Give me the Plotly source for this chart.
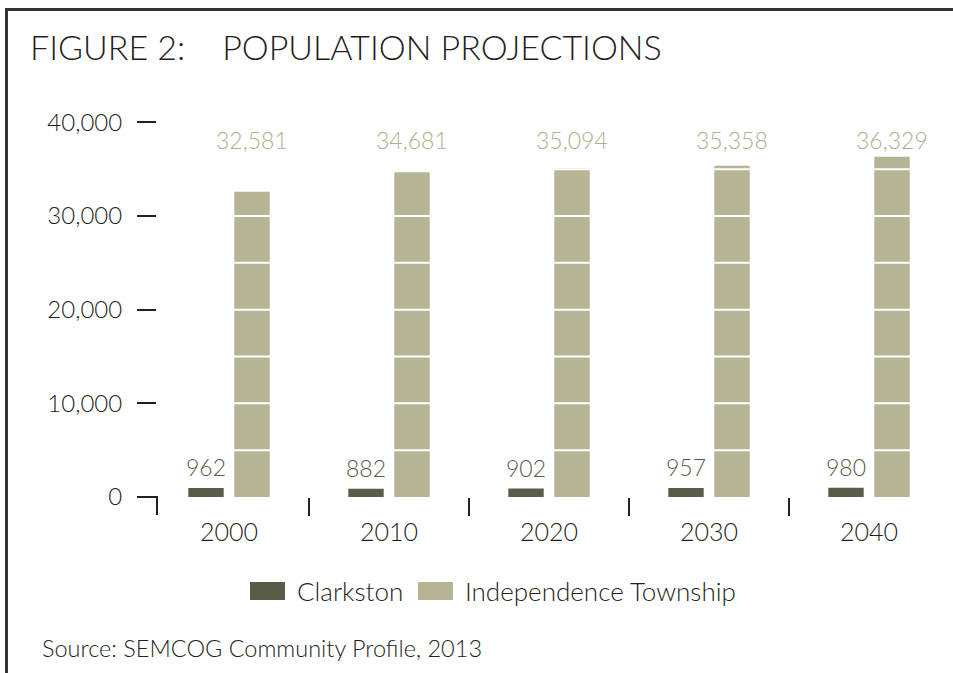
import plotly.graph_objects as go

years = ['2000', '2010', '2020', '2030', '2040']
clarkston = [962, 882, 902, 957, 980]
independence = [32581, 34681, 35094, 35358, 36329]
series_names = ['Clarkston', 'Independence Township']
y_ticks = [0, 10000, 20000, 30000, 40000]

DARK = '#5b5b4a'
LIGHT = '#b5b596'
INK = '#231f20'
FONT = 'Lato'

W, H = 953, 673
L, R, T, B = 157, 12, 113, 176


def px_x(px):
    # pixel -> paper x
    return (px - L) / (W - L - R)


def px_y(py):
    # pixel -> paper y
    return (H - B - py) / (H - T - B)


fig = go.Figure()

fig.add_trace(go.Bar(
    x=years,
    y=clarkston,
    name=series_names[0],
    marker=dict(color=DARK, line=dict(width=0)),
))

fig.add_trace(go.Bar(
    x=years,
    y=independence,
    name=series_names[1],
    marker=dict(color=LIGHT, line=dict(width=0)),
))

# value labels: Clarkston just above its bar, township on one common line
for i, (c, v) in enumerate(zip(clarkston, independence)):
    fig.add_annotation(
        x=i, y=c, xref='x', yref='y', yanchor='bottom',
        text=f'{c:,}', showarrow=False, xshift=-23, yshift=5,
        font=dict(family=FONT, size=23, color=DARK, weight=300),
    )
    fig.add_annotation(
        x=i, y=38100, xref='x', yref='y',
        text=f'{v:,}', showarrow=False, xshift=23,
        font=dict(family=FONT, size=23, color='#aeae8e', weight=300),
    )

shapes = []
# white grid lines drawn over the bars
for g in range(5000, 40001, 5000):
    shapes.append(dict(type='line', xref='paper', yref='y', x0=0, x1=1, y0=g, y1=g,
                       line=dict(color='white', width=2), layer='above'))

# corner piece under the 0 tick
shapes.append(dict(type='line', xref='paper', yref='paper', x0=0, x1=0,
                   y0=px_y(496), y1=px_y(515), line=dict(color=INK, width=2)))

# frame
shapes.append(dict(type='path', xref='paper', yref='paper',
                   path=f'M {px_x(6.5)},{px_y(700)} L {px_x(6.5)},{px_y(9.5)} L {px_x(980)},{px_y(9.5)}',
                   line=dict(color='#333333', width=3)))

# legend swatches
legend_items = [(250, 295), (418, 463)]
for (sx, tx), name, col in zip(legend_items, series_names, [DARK, LIGHT]):
    shapes.append(dict(type='rect', xref='paper', yref='paper',
                       x0=px_x(sx), x1=px_x(sx + 35), y0=px_y(600), y1=px_y(582),
                       fillcolor=col, line=dict(width=0)))
    fig.add_annotation(x=px_x(tx), y=px_y(591), xref='paper', yref='paper',
                       text=name, showarrow=False, xanchor='left', yanchor='middle',
                       font=dict(family=FONT, size=26, color=INK, weight=300))

fig.add_annotation(x=px_x(40), y=px_y(648), xref='paper', yref='paper',
                   text='Source: SEMCOG Community Profile, 2013', showarrow=False,
                   xanchor='left', yanchor='middle',
                   font=dict(family=FONT, size=23.5, color=INK, weight=300))

fig.update_layout(
    width=W, height=H,
    margin=dict(l=L, r=R, t=T, b=B),
    paper_bgcolor='white',
    plot_bgcolor='white',
    barmode='group',
    bargap=0.425,
    bargroupgap=0.23,
    showlegend=False,
    shapes=shapes,
    title=dict(
        text='FIGURE 2:\u00a0\u00a0\u00a0 POPULATION PROJECTIONS',
        x=30 / W, xanchor='left', xref='container',
        y=1 - 48 / H, yanchor='middle', yref='container',
        font=dict(family=FONT, size=34, color=INK, weight=300),
    ),
    xaxis=dict(
        type='category',
        range=[-0.45, 4.45],
        tickson='boundaries',
        ticks='outside', ticklen=18, tickwidth=2, tickcolor=INK,
        ticklabelstandoff=18,
        showgrid=False, showline=False, zeroline=False,
        tickfont=dict(family=FONT, size=25, color=INK, weight=300),
    ),
    yaxis=dict(
        range=[0, 41000],
        tickvals=y_ticks,
        tickformat=',',
        ticks='outside', ticklen=19, tickwidth=2, tickcolor=INK,
        ticklabelstandoff=10,
        showgrid=False, showline=False, zeroline=False,
        tickfont=dict(family=FONT, size=24, color=INK, weight=300),
    ),
)

fig.write_html('out.html', config={'displayModeBar': False},
               post_script="document.body.style.margin='0';")
